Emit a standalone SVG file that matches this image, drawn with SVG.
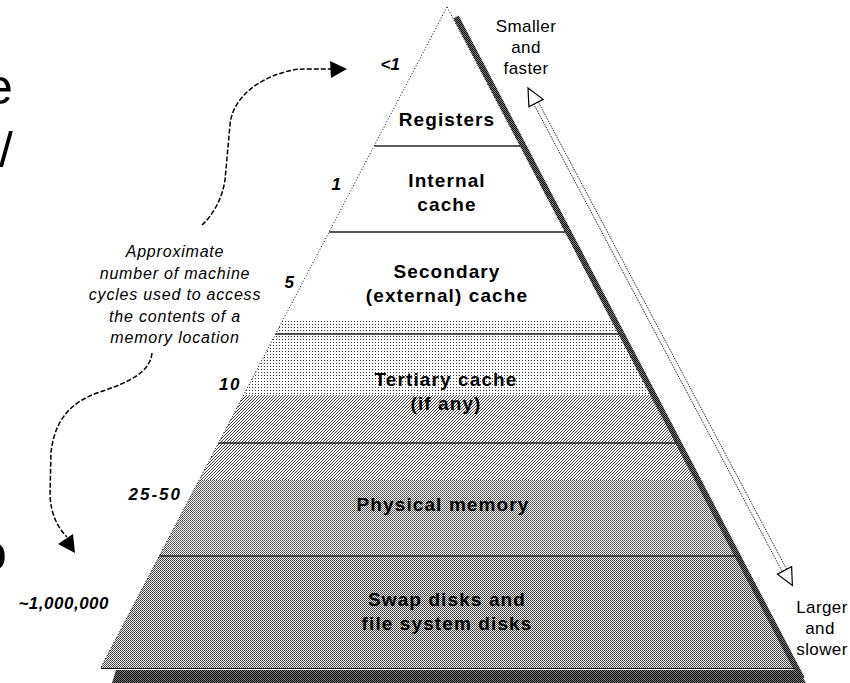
<svg xmlns="http://www.w3.org/2000/svg" width="850" height="683" viewBox="0 0 850 683">
<defs>
<style>
.lbl{font-family:"Liberation Sans",Arial,sans-serif;font-weight:bold;font-size:19px;letter-spacing:1.1px;text-anchor:middle;fill:#000}
.num{font-family:"Liberation Sans",Arial,sans-serif;font-weight:bold;font-style:italic;font-size:17px;text-anchor:end;fill:#000}
.ann{font-family:"Liberation Sans",Arial,sans-serif;font-style:italic;font-size:16px;letter-spacing:0.8px;text-anchor:middle;fill:#000}
.side{font-family:"Liberation Sans",Arial,sans-serif;font-size:17px;letter-spacing:0.4px;text-anchor:middle;fill:#000}
.big{font-family:"Liberation Sans",Arial,sans-serif;font-size:50px;fill:#000}
.sep{stroke:#222;stroke-width:1.5}
.dotline{stroke:#000;stroke-width:1;stroke-dasharray:1 2;fill:none}
.curve{stroke:#000;stroke-width:1.5;stroke-dasharray:5 2;fill:none}
.dbl{stroke:#000;stroke-width:1;stroke-dasharray:1 1;fill:none}
</style>
<pattern id="dots" width="3" height="3" patternUnits="userSpaceOnUse"><rect width="1" height="1" fill="#333"/></pattern>
<pattern id="diag" width="3" height="3" patternUnits="userSpaceOnUse"><rect x="2" y="0" width="1" height="1" fill="#444"/><rect x="1" y="1" width="1" height="1" fill="#444"/><rect x="0" y="2" width="1" height="1" fill="#444"/></pattern>
<pattern id="check" width="2" height="2" patternUnits="userSpaceOnUse"><rect width="2" height="2" fill="#f2f2f2"/><rect width="1" height="1" fill="#555"/><rect x="1" y="1" width="1" height="1" fill="#666"/></pattern>
<pattern id="check2" width="2" height="2" patternUnits="userSpaceOnUse"><rect width="2" height="2" fill="#eaeaea"/><rect width="1" height="1" fill="#444"/><rect x="1" y="1" width="1" height="1" fill="#555"/></pattern>
<pattern id="dark" width="2" height="2" patternUnits="userSpaceOnUse"><rect width="2" height="2" fill="#777"/><rect width="1" height="1" fill="#000"/><rect x="1" y="1" width="1" height="1" fill="#111"/></pattern>
<clipPath id="pyr"><polygon points="447,7 100.6,668 794.7,668"/></clipPath>
</defs>
<rect width="850" height="683" fill="#fff"/>

<g id="slide-fragments">
<text class="big" x="-15" y="104">e</text>
<text class="big" x="-1" y="167">/</text>
<text class="big" x="-21" y="570">o</text>
</g>

<g id="pyramid-body">
<g clip-path="url(#pyr)">
<rect x="0" y="0" width="850" height="683" fill="#fff"/>
<rect x="0" y="320" width="850" height="75" fill="url(#dots)"/>
<rect x="0" y="395" width="850" height="85" fill="url(#diag)"/>
<rect x="0" y="480" width="850" height="76" fill="url(#check)"/>
<rect x="0" y="556" width="850" height="112" fill="url(#check2)"/>
</g>
<line class="dotline" x1="447" y1="7" x2="100.6" y2="668"/>
<line class="dotline" x1="447" y1="7" x2="794.7" y2="668"/>
<line x1="456" y1="17" x2="802" y2="679" stroke="url(#dark)" stroke-width="6"/>
<line x1="101" y1="668.5" x2="795" y2="668.5" stroke="#111" stroke-width="1"/>
<polygon points="116,670 798,670 806,683 112,683" fill="url(#dark)"/>
</g>

<g id="layer-registers">
<text class="lbl" x="447" y="126">Registers</text>
<line class="sep" x1="374.2" y1="146" x2="520.1" y2="146"/>
<text class="num" x="400" y="70">&lt;1</text>
</g>

<g id="layer-internal-cache">
<text class="lbl" x="447" y="187">Internal</text>
<text class="lbl" x="447" y="211">cache</text>
<line class="sep" x1="329.1" y1="232" x2="565.4" y2="232"/>
<text class="num" x="341" y="190">1</text>
</g>

<g id="layer-secondary-cache">
<text class="lbl" x="447" y="278">Secondary</text>
<text class="lbl" x="447" y="302">(external) cache</text>
<line class="sep" x1="275.7" y1="334" x2="619" y2="334"/>
<text class="num" x="294" y="288">5</text>
</g>

<g id="layer-tertiary-cache">
<text class="lbl" x="446" y="386">Tertiary cache</text>
<text class="lbl" x="446" y="410">(if any)</text>
<line class="sep" x1="218.5" y1="443" x2="676.3" y2="443"/>
<text class="num" x="241" y="390" style="letter-spacing:1.5px">10</text>
</g>

<g id="layer-physical-memory">
<text class="lbl" x="443" y="511">Physical memory</text>
<line class="sep" x1="159.3" y1="556" x2="735.8" y2="556"/>
<text class="num" x="182" y="500" style="letter-spacing:2px">25-50</text>
</g>

<g id="layer-swap-disks">
<text class="lbl" x="447" y="606">Swap disks and</text>
<text class="lbl" x="447" y="630">file system disks</text>
<text class="num" x="109" y="609" style="letter-spacing:0.5px">~1,000,000</text>
</g>

<g id="annotation">
<text class="ann" x="175" y="257">Approximate</text>
<text class="ann" x="175" y="279">number of machine</text>
<text class="ann" x="175" y="300">cycles used to access</text>
<text class="ann" x="175" y="322">the contents of a</text>
<text class="ann" x="175" y="343">memory location</text>
</g>

<g id="label-smaller">
<text class="side" x="526" y="32">Smaller</text>
<text class="side" x="526" y="53">and</text>
<text class="side" x="526" y="74">faster</text>
</g>

<g id="label-larger">
<text class="side" x="822" y="613">Larger</text>
<text class="side" x="820" y="634">and</text>
<text class="side" x="822" y="655">slower</text>
</g>

<g id="connectors">
<path class="curve" d="M202,225 C212,216 222,200 225,180 L230,125 C232,100 255,80 285,72 C295,69 300,69 310,69 L332,69"/>
<polygon points="347,69 330,61 331,78" fill="#000"/>
<path class="curve" d="M152,353 C150,372 130,382 100,392 C70,402 55,420 51,452 L50,495 C51,515 58,528 67,537"/>
<polygon points="58,544 73,534 75,553" fill="#000"/>
<line class="dbl" x1="538.2" y1="101.8" x2="786.7" y2="569.3"/>
<line class="dbl" x1="533.8" y1="104.2" x2="782.3" y2="571.7"/>
<polygon points="528,88 543.1,99.3 528.9,106.7" fill="#fff" stroke="#000" stroke-width="1.2"/>
<polygon points="792.4,585.5 791.6,566.8 777.4,574.2" fill="#fff" stroke="#000" stroke-width="1.2"/>
</g>
</svg>
